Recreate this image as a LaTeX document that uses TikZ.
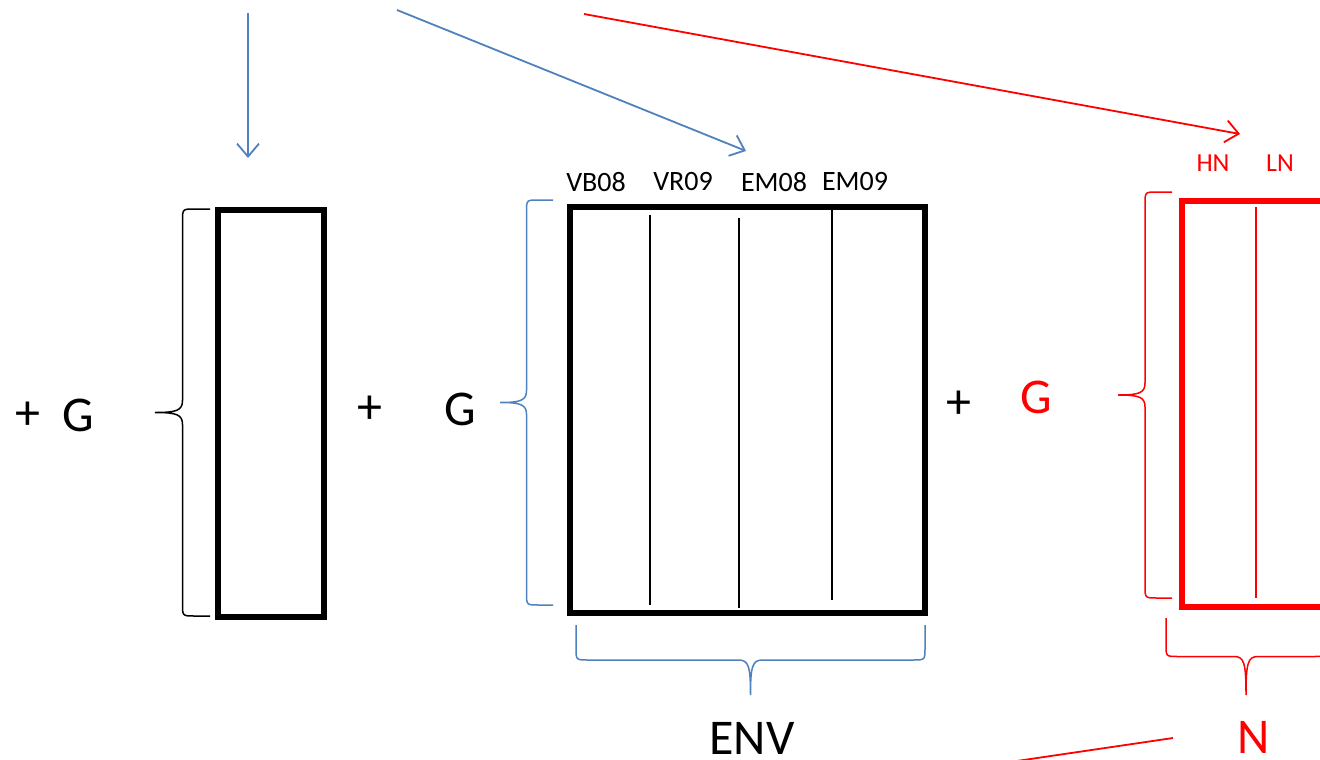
\documentclass[tikz,border=0pt]{standalone}
\usepackage{fontspec}
\setmainfont{Carlito}
\usetikzlibrary{arrows.meta}
\definecolor{ofblue}{HTML}{4F81BD}
\definecolor{ofred}{HTML}{FF0000}

\begin{document}
\begin{tikzpicture}[x=1pt,y=-1pt,
  matbox/.style={rectangle,draw,line width=5.5pt,inner sep=0pt},
  colline/.style={line width=1.6pt},
  arr/.style={-{Straight Barb[length=13pt,width=22pt]},line width=1.8pt},
  sym/.style={font=\fontsize{50}{54}\selectfont},
  big/.style={font=\fontsize{50}{54}\selectfont},
  hdr/.style={font=\fontsize{28}{30}\selectfont},
  pics/curly/.style n args={2}{code={
    \draw[line width=1.5pt] (0,-#1) -- (-#2/2+12,-#1) .. controls (-#2/2,-#1) .. (-#2/2,-#1+12)
      -- (-#2/2,-12) .. controls (-#2/2,-2) and (-#2/2-6,0) .. (-#2,0)
      .. controls (-#2/2-6,0) and (-#2/2,2) .. (-#2/2,12)
      -- (-#2/2,#1-12) .. controls (-#2/2,#1) .. (-#2/2+12,#1) -- (0,#1);
  }}
]
  \useasboundingbox (0,0) rectangle (1320,760);
  \clip (0,0) rectangle (1320,760);

  % ---- Top arrows --------------------------------------------
  \coordinate (aone) at (248,13);
  \coordinate (aoneend) at (248,158);
  \coordinate (atwo) at (397,10);
  \coordinate (atwoend) at (746,151);
  \coordinate (athree) at (584,14);
  \coordinate (athreeend) at (1240,134);
  \draw[arr,ofblue] (aone) -- (aoneend);
  \draw[arr,ofblue] (atwo) -- (atwoend);
  \draw[arr,ofred] (athree) -- (athreeend);

  % ---- First term --------------------------------------------
  \node[sym] (plusa) at (28,416) {+};
  \node[sym] (ga) at (78,415) {G};
  \pic at (210,412.5) {curly={203.5}{55}};
  \node[matbox,minimum width=106pt,minimum height=407pt] (genobox) at (271,413.5) {};

  % ---- Environment term --------------------------------------
  \node[sym] (plusb) at (370,410) {+};
  \node[sym] (gb) at (460,409) {G};
  \pic[ofblue] at (553,402.5) {curly={202.5}{53}};
  \node[matbox,minimum width=355pt,minimum height=406pt] (envbox) at (747.5,410) {};
  \draw[colline] (650,215) -- (650,605);
  \draw[colline] (739,218) -- (739,608);
  \draw[colline] (832,208) -- (832,600);
  \node[hdr] (vb) at (596,182) {VB08};
  \node[hdr] (vr) at (683,182) {VR09};
  \node[hdr] (ema) at (774,182) {EM08};
  \node[hdr] (emb) at (855,182) {EM09};
  \pic[ofblue,rotate=90] at (750.5,625) {curly={174.5}{70}};
  \node[big] (env) at (752,738) {ENV};

  % ---- Nitrogen term -----------------------------------------
  \node[sym] (plusc) at (959,405) {+};
  \node[sym,text=ofred] (gc) at (1036,397) {G};
  \pic[ofred] at (1172,395) {curly={203}{54}};
  \node[matbox,draw=ofred,minimum width=150pt,minimum height=406pt] (nbox) at (1257,404) {};
  \draw[colline,ofred] (1256,207) -- (1256,598);
  \node[hdr,text=ofred,font=\fontsize{26}{28}\selectfont] (hn) at (1213,163) {HN};
  \node[hdr,text=ofred,font=\fontsize{26}{28}\selectfont] (ln) at (1280,163) {LN};
  \pic[ofred,rotate=90] at (1246,618) {curly={80}{77}};
  \node[big,text=ofred] (nn) at (1254,737) {N};
  \coordinate (nlink) at (1173,738);
  \coordinate (nlinkend) at (1010,762);
  \draw[ofred,line width=1.8pt] (nlink) -- (nlinkend);

\end{tikzpicture}
\end{document}
